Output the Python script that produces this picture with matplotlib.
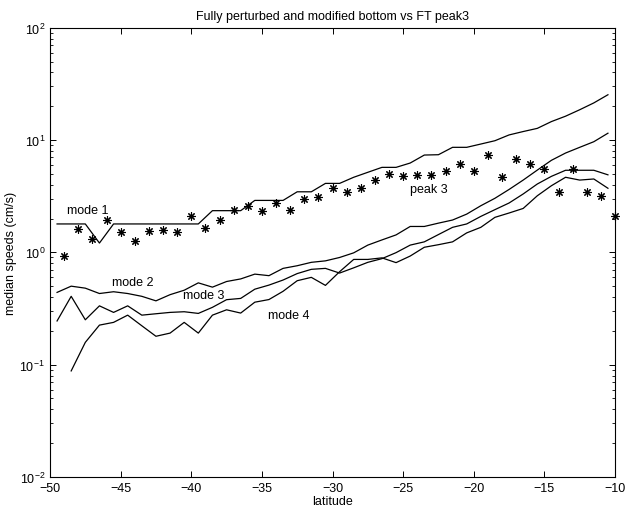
import numpy as np
import matplotlib
matplotlib.use("Agg")
import matplotlib.pyplot as plt
from matplotlib.ticker import LogLocator, FixedLocator, NullFormatter

plt.rcParams['font.family'] = ['Liberation Sans', 'DejaVu Sans']
plt.rcParams['mathtext.fontset'] = 'custom'
plt.rcParams['mathtext.rm'] = 'Liberation Sans'
plt.rcParams['mathtext.it'] = 'Liberation Sans'
plt.rcParams['mathtext.default'] = 'regular'

# latitude grids
lat_lines = np.arange(-49.5, -10.0, 1.0)       # 40 points, -49.5 .. -10.5
lat_mode4 = np.arange(-48.5, -10.0, 1.0)       # 39 points
lat_peak = np.arange(-49, -9, 1)               # 40 points, -49 .. -10

mode1 = [1.79, 1.79, 1.79, 1.21, 1.79, 1.79, 1.79, 1.79, 1.79, 1.79, 1.79,
         2.35, 2.35, 2.35, 2.9, 2.9, 2.9, 3.46, 3.46, 4.11, 4.11, 4.66, 5.16,
         5.71, 5.71, 6.24, 7.35, 7.4, 8.61, 8.61, 9.21, 9.86, 11.1, 11.9,
         12.7, 14.6, 16.3, 18.6, 21.4, 25.3]

mode2 = [0.44, 0.50, 0.48, 0.43, 0.446, 0.43, 0.406, 0.37, 0.42, 0.46,
         0.535, 0.49, 0.55, 0.58, 0.64, 0.62, 0.72, 0.76, 0.815, 0.84, 0.90,
         0.99, 1.16, 1.29, 1.43, 1.70, 1.70, 1.82, 1.94, 2.19, 2.60, 3.03,
         3.63, 4.4, 5.4, 6.6, 7.66, 8.61, 9.66, 11.5]

mode3 = [0.245, 0.406, 0.251, 0.334, 0.292, 0.334, 0.276, 0.284, 0.292,
         0.296, 0.286, 0.324, 0.379, 0.389, 0.47, 0.511, 0.567, 0.647, 0.706,
         0.72, 0.654, 0.728, 0.815, 0.879, 0.994, 1.16, 1.24, 1.44, 1.67,
         1.79, 2.09, 2.40, 2.75, 3.31, 4.06, 4.75, 5.38, 5.38, 5.38, 4.9]

mode4 = [0.088, 0.158, 0.225, 0.238, 0.276, 0.222, 0.179, 0.191, 0.238,
         0.191, 0.276, 0.308, 0.288, 0.36, 0.38, 0.45, 0.559, 0.599, 0.508,
         0.672, 0.865, 0.865, 0.893, 0.81, 0.927, 1.11, 1.17, 1.24, 1.49,
         1.67, 2.05, 2.24, 2.46, 3.19, 3.92, 4.66, 4.40, 4.50, 3.72]

peak3 = [0.93, 1.61, 1.31, 1.95, 1.51, 1.27, 1.56, 1.59, 1.51, 2.09, 1.65,
         1.95, 2.40, 2.60, 2.35, 2.75, 2.40, 3.0, 3.1, 3.72, 3.42, 3.75, 4.43,
         4.95, 4.81, 4.91, 4.93, 5.35, 6.15, 5.33, 7.40, 4.71, 6.77, 6.11,
         5.52, 3.46, 5.52, 3.46, 3.15, 2.09]

labels = ["mode 1", "mode 2", "mode 3", "mode 4", "peak 3"]
label_pos = [(-48.8, 2.38), (-45.6, 0.55), (-40.6, 0.417), (-34.6, 0.276), (-24.5, 3.66)]

title = "Fully perturbed and modified bottom vs FT peak3"
xticks = [-50, -45, -40, -35, -30, -25, -20, -15, -10]

fig = plt.figure(figsize=(6.26, 5.10), dpi=100)
ax = fig.add_axes([50 / 626, 1 - 478 / 510, 565 / 626, (478 - 28.7) / 510])

lw = 0.9
ax.plot(lat_lines, mode1, color='black', lw=lw)
ax.plot(lat_lines, mode2, color='black', lw=lw)
ax.plot(lat_lines, mode3, color='black', lw=lw)
ax.plot(lat_mode4, mode4, color='black', lw=lw)
ax.plot(lat_peak, peak3, linestyle='none', marker=(8, 2, 0), markersize=6,
        markeredgewidth=0.8, color='black', clip_on=False)

for txt, (x, y) in zip(labels, label_pos):
    ax.text(x, y, txt, fontsize=9, ha='left', va='center')

ax.set_yscale('log')
ax.set_xlim(-50, -10)
ax.set_ylim(1e-2, 1e2)
ax.xaxis.set_major_locator(FixedLocator(xticks))
ax.set_xticklabels([f"\u2212{abs(t)}" for t in xticks])
ax.yaxis.set_major_locator(LogLocator(base=10, numticks=10))
ax.yaxis.set_minor_locator(LogLocator(base=10, subs=np.arange(2, 10), numticks=10))
ax.yaxis.set_minor_formatter(NullFormatter())
ax.tick_params(which='both', direction='in', top=True, right=True, labelsize=9)
ax.tick_params(which='major', length=4, width=0.7)
ax.tick_params(which='minor', length=2.5, width=0.6)
for s in ax.spines.values():
    s.set_linewidth(0.8)

ax.set_title(title, fontsize=9, pad=6)
ax.set_xlabel("latitude", fontsize=9, labelpad=1)
ax.set_ylabel("median speeds (cm/s)", fontsize=9, labelpad=2)

fig.savefig("out.png", dpi=100)
